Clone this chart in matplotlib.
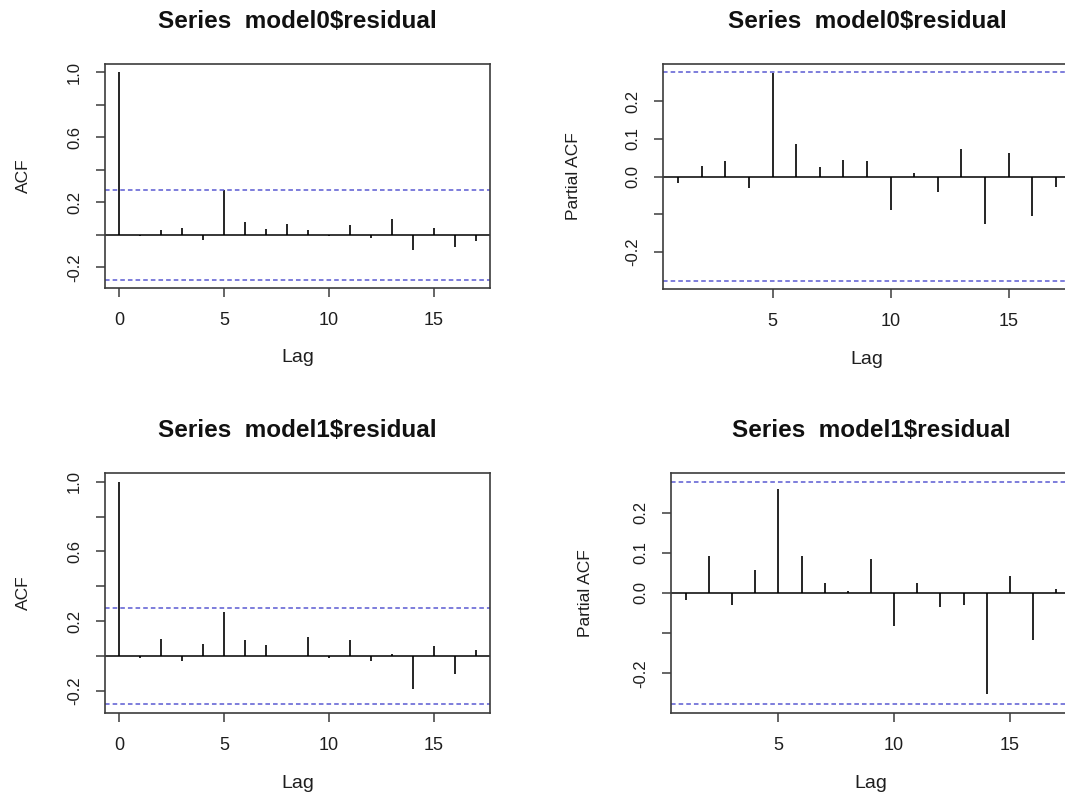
import numpy as np
import matplotlib
matplotlib.use("Agg")
import matplotlib.pyplot as plt

plt.rcParams['font.family'] = ['Liberation Sans', 'DejaVu Sans']

# values (R acf / pacf output)
acf_lags = list(range(0, 18))
pacf_lags = list(range(1, 18))

acf_model0 = [1.0, -0.01, 0.03, 0.04, -0.03, 0.275, 0.078, 0.033, 0.065, 0.029,
              -0.005, 0.057, -0.02, 0.098, -0.092, 0.041, -0.078, -0.039]
pacf_model0 = [-0.016, 0.028, 0.042, -0.031, 0.275, 0.086, 0.025, 0.045, 0.042,
               -0.088, 0.009, -0.040, 0.073, -0.125, 0.062, -0.104, -0.027]
acf_model1 = [1.0, -0.013, 0.095, -0.03, 0.067, 0.25, 0.093, 0.063, 0.002, 0.109,
              -0.011, 0.093, -0.027, 0.011, -0.189, 0.057, -0.105, 0.036]
pacf_model1 = [-0.018, 0.093, -0.029, 0.058, 0.259, 0.093, 0.024, 0.004, 0.084,
               -0.083, 0.026, -0.035, -0.031, -0.252, 0.043, -0.116, 0.011]

conf_bound = 0.277  # blue dashed significance lines

titles = ['Series  model0$residual', 'Series  model0$residual',
          'Series  model1$residual', 'Series  model1$residual']

acf_yticks = [-0.2, 0.0, 0.2, 0.4, 0.6, 0.8, 1.0]
acf_ylabels = ['-0.2', '', '0.2', '', '0.6', '', '1.0']
pacf_yticks = [-0.2, -0.1, 0.0, 0.1, 0.2]
pacf_ylabels = ['-0.2', '', '0.0', '0.1', '0.2']

W, H = 1065, 796
fig = plt.figure(figsize=(W / 100, H / 100), dpi=100)


def px_axes(left, top, right, bottom):
    return fig.add_axes([left / W, (H - bottom) / H, (right - left) / W, (bottom - top) / H])


panels = [
    (px_axes(105, 64, 490, 288), acf_lags, acf_model0, 'ACF', titles[0], 82),
    (px_axes(663, 64, 1071, 289), pacf_lags, pacf_model0, 'Partial ACF', titles[1], 90),
    (px_axes(105, 473, 490, 713), acf_lags, acf_model1, 'ACF', titles[2], 82),
    (px_axes(671, 473, 1071, 713), pacf_lags, pacf_model1, 'Partial ACF', titles[3], 85),
]

box_col = '#3c3c3c'
blue = '#5a5ad2'
txt = '#1e1e1e'

for ax, lags, vals, ylab, title, off in panels:
    lags = np.array(lags)
    vals = np.array(vals)

    ax.vlines(lags, 0, vals, color='black', lw=1.2)
    ax.axhline(0, color='black', lw=1.1)
    ax.axhline(conf_bound, color=blue, lw=1.1, ls=(0, (3, 2)))
    ax.axhline(-conf_bound, color=blue, lw=1.1, ls=(0, (3, 2)))

    # R style 4% extension of the ranges
    xlo, xhi = lags.min(), lags.max()
    xp = 0.04 * (xhi - xlo)
    ax.set_xlim(xlo - xp, xhi + xp)
    ylo = min(-conf_bound, vals.min())
    yhi = max(conf_bound, vals.max())
    yp = 0.04 * (yhi - ylo)
    ax.set_ylim(ylo - yp, yhi + yp)

    if ylab == 'ACF':
        ax.set_xticks([0, 5, 10, 15])
        ax.set_yticks(acf_yticks)
        ax.set_yticklabels(acf_ylabels)
    else:
        ax.set_xticks([5, 10, 15])
        ax.set_yticks(pacf_yticks)
        ax.set_yticklabels(pacf_ylabels)

    for s in ax.spines.values():
        s.set_color(box_col)
        s.set_linewidth(1.2)

    ax.tick_params(axis='both', direction='out', length=6.5, width=1.1, color=box_col,
                   labelcolor=txt)
    ax.tick_params(axis='x', labelsize=13, pad=10.5)
    ax.tick_params(axis='y', labelsize=12, pad=10, labelrotation=90)
    for lab in ax.get_yticklabels():
        lab.set_va('center')

    ax.set_title(title, fontsize=17.5, fontweight='bold', pad=26, color='#111111')
    ax.set_xlabel('Lag', fontsize=14, color=txt, va='center')
    ax.xaxis.set_label_coords(0.5, -70 / (ax.get_position().height * H), transform=ax.transAxes)
    ax.set_ylabel(ylab, fontsize=12.5, color=txt, va='center')
    ax.yaxis.set_label_coords(-off / (ax.get_position().width * W), 0.5, transform=ax.transAxes)

fig.savefig('out.png', dpi=100)
